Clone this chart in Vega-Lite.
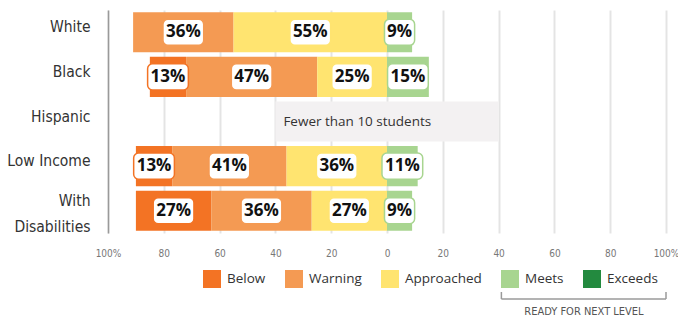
{
  "$schema": "https://vega.github.io/schema/vega-lite/v6.json",
  "width": 558,
  "height": 223,
  "autosize": "none",
  "padding": {"left": 108, "top": 10, "right": 12, "bottom": 85},
  "background": "white",
  "config": {"view": {"stroke": null}, "font": "Open Sans"},
  "datasets": {
    "scores": [
      {"group": "White", "level": "Warning", "value": 36},
      {"group": "White", "level": "Approached", "value": 55},
      {"group": "White", "level": "Meets", "value": 9},
      {"group": "Black", "level": "Below", "value": 13},
      {"group": "Black", "level": "Warning", "value": 47},
      {"group": "Black", "level": "Approached", "value": 25},
      {"group": "Black", "level": "Meets", "value": 15},
      {"group": "Low Income", "level": "Below", "value": 13},
      {"group": "Low Income", "level": "Warning", "value": 41},
      {"group": "Low Income", "level": "Approached", "value": 36},
      {"group": "Low Income", "level": "Meets", "value": 11},
      {"group": "With Disabilities", "level": "Below", "value": 27},
      {"group": "With Disabilities", "level": "Warning", "value": 36},
      {"group": "With Disabilities", "level": "Approached", "value": 27},
      {"group": "With Disabilities", "level": "Meets", "value": 9}
    ],
    "notes": [{"group": "Hispanic", "note": "Fewer than 10 students"}],
    "caption": [{"caption": "READY FOR NEXT LEVEL"}]
  },
  "encoding": {
    "y": {
      "field": "group",
      "type": "nominal",
      "title": null,
      "scale": {
        "domain": ["White", "Black", "Hispanic", "Low Income", "With Disabilities"],
        "paddingInner": 0.1,
        "paddingOuter": 0.05
      },
      "axis": {
        "domainColor": "#9a9a9a",
        "domainWidth": 1.5,
        "ticks": false,
        "labelFont": "DejaVu Sans Condensed, Roboto, sans-serif",
        "labelFontSize": 15.5,
        "labelColor": "#333333",
        "labelPadding": 18,
        "labelLineHeight": 26,
        "labelOffset": {"condition": {"test": "datum.value == 'With Disabilities'", "value": -10}, "value": -5},
        "labelExpr": "datum.value == 'With Disabilities' ? ['With', 'Disabilities'] : datum.value"
      }
    }
  },
  "layer": [
    {
      "data": {"name": "notes"},
      "mark": {"type": "bar", "color": "#f3f1f2"},
      "encoding": {
        "x": {
          "datum": -40,
          "type": "quantitative",
          "scale": {"domain": [-100, 100], "nice": false},
          "axis": {
            "values": [-100, -80, -60, -40, -20, 0, 20, 40, 60, 80, 100],
            "labelExpr": "abs(datum.value) == 100 ? '100%' : '' + abs(datum.value)",
            "labelFlush": false,
            "grid": true,
            "gridColor": "#e4e4e4",
            "gridWidth": 2,
            "domain": false,
            "ticks": false,
            "labelFont": "DejaVu Sans Condensed, Roboto, sans-serif",
            "labelFontSize": 10,
            "labelColor": "#777777",
            "labelPadding": 15,
            "title": null
          }
        },
        "x2": {"datum": 40}
      }
    },
    {
      "data": {"name": "notes"},
      "mark": {"type": "text", "align": "left", "dx": 8, "fontSize": 13.5, "color": "#333333", "font": "Open Sans"},
      "encoding": {
        "x": {"datum": -40, "type": "quantitative"},
        "text": {"field": "note"}
      }
    },
    {
      "data": {"name": "scores"},
      "transform": [
        {"calculate": "indexof(['Approached','Warning','Below','Meets','Exceeds'], datum.level)", "as": "order"},
        {"calculate": "datum.order < 3 ? -datum.value : datum.value", "as": "signed"},
        {"stack": "signed", "groupby": ["group"], "sort": [{"field": "order", "order": "ascending"}], "as": ["x0", "x1"], "offset": "zero"},
        {"calculate": "(datum.x0 + datum.x1) / 2", "as": "mid"},
        {"calculate": "datum.value + '%'", "as": "label"},
        {"calculate": "length(datum.label) > 2 ? 7.3 : 5.4", "as": "hw"},
        {"calculate": "datum.mid - datum.hw", "as": "bx0"},
        {"calculate": "datum.mid + datum.hw", "as": "bx1"}
      ],
      "layer": [
        {
          "mark": {"type": "bar"},
          "encoding": {
            "x": {"field": "x0", "type": "quantitative"},
            "x2": {"field": "x1"},
            "color": {
              "field": "level",
              "type": "nominal",
              "scale": {
                "domain": ["Below", "Warning", "Approached", "Meets", "Exceeds"],
                "range": ["#f37324", "#f49a53", "#ffe470", "#a8d590", "#238a3f"]
              },
              "legend": {
                "orient": "none",
                "legendX": 95,
                "legendY": 260,
                "direction": "horizontal",
                "title": null,
                "symbolType": "square",
                "symbolSize": 324,
                "symbolStrokeWidth": 0,
                "symbolOpacity": 1,
                "labelFont": "Open Sans",
                "labelFontSize": 13.5,
                "labelColor": "#333333",
                "labelOffset": 6,
                "columnPadding": 19
              }
            }
          }
        },
        {
          "mark": {"type": "bar", "fill": "white", "cornerRadius": 5, "strokeWidth": 1.5, "height": {"band": 0.65}},
          "encoding": {
            "x": {"field": "bx0", "type": "quantitative"},
            "x2": {"field": "bx1"},
            "stroke": {
              "field": "level",
              "type": "nominal",
              "scale": {
                "domain": ["Below", "Warning", "Approached", "Meets", "Exceeds"],
                "range": ["#f37324", "#f49a53", "#ffe470", "#a8d590", "#238a3f"]
              },
              "legend": null
            }
          }
        },
        {
          "mark": {"type": "text", "font": "Open Sans", "fontWeight": "bold", "fontSize": 17, "color": "#111111"},
          "encoding": {
            "x": {"field": "mid", "type": "quantitative"},
            "text": {"field": "label"}
          }
        }
      ]
    },
    {
      "data": {"name": "caption"},
      "mark": {"type": "rule", "color": "#9a9a9a", "strokeWidth": 1.5, "yOffset": 66},
      "encoding": {
        "x": {"datum": 41, "type": "quantitative"},
        "x2": {"datum": 100},
        "y": {"value": "height"}
      }
    },
    {
      "data": {"name": "caption"},
      "mark": {"type": "rule", "color": "#9a9a9a", "strokeWidth": 1.5, "yOffset": 59, "y2Offset": 66},
      "encoding": {
        "x": {"datum": 41, "type": "quantitative"},
        "y": {"value": "height"},
        "y2": {"value": "height"}
      }
    },
    {
      "data": {"name": "caption"},
      "mark": {"type": "rule", "color": "#9a9a9a", "strokeWidth": 1.5, "yOffset": 59, "y2Offset": 66},
      "encoding": {
        "x": {"datum": 100, "type": "quantitative"},
        "y": {"value": "height"},
        "y2": {"value": "height"}
      }
    },
    {
      "data": {"name": "caption"},
      "mark": {"type": "text", "font": "DejaVu Sans Condensed, Roboto, sans-serif", "fontSize": 11, "color": "#555555", "yOffset": 79},
      "encoding": {
        "x": {"datum": 70.6, "type": "quantitative"},
        "y": {"value": "height"},
        "text": {"field": "caption"}
      }
    }
  ]
}
